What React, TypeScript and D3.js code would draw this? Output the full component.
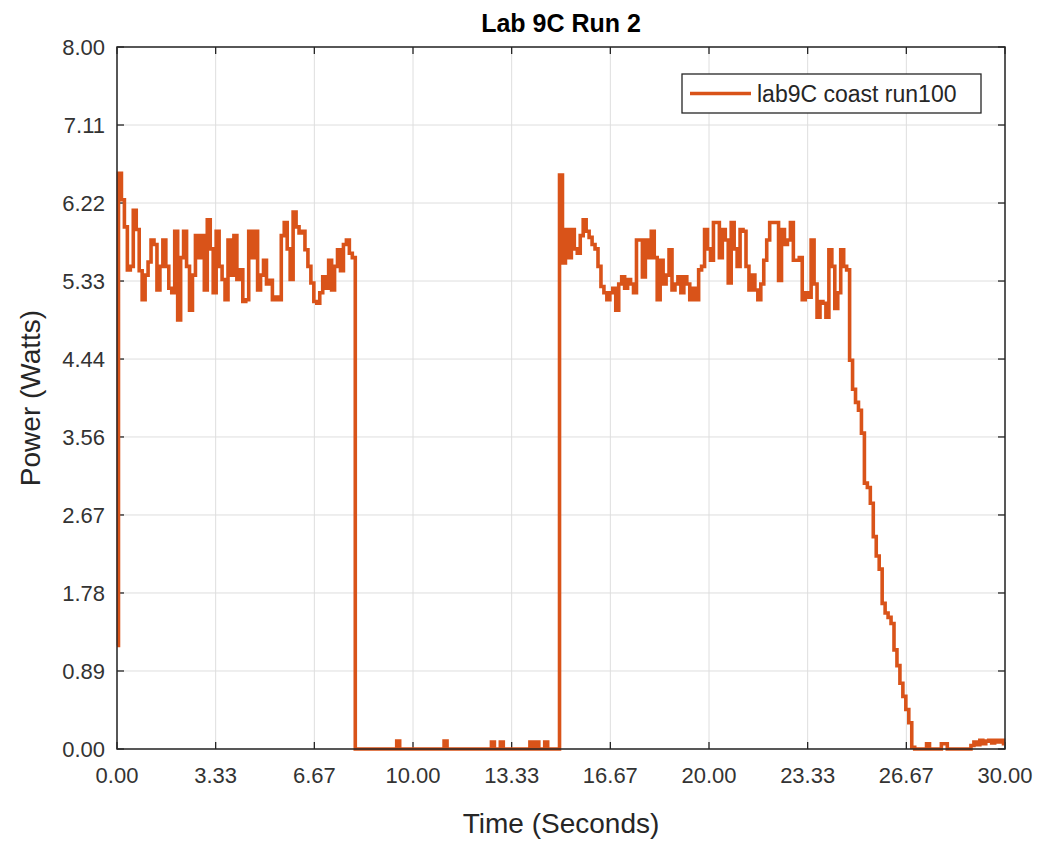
import React from 'react';
import * as d3 from 'd3';

const title = 'Lab 9C Run 2';
const xLabel = 'Time (Seconds)';
const yLabel = 'Power (Watts)';
const seriesName = 'lab9C coast run100';
const sampleStep = 0.1; // seconds between samples
const xTicks = [0, 3.333, 6.667, 10, 13.333, 16.667, 20, 23.333, 26.667, 30];
const yTicks = [0, 0.889, 1.778, 2.667, 3.556, 4.444, 5.333, 6.222, 7.111, 8];

// Power samples (W), one every 0.1 s from t = 0 to t = 30
const power = [
  1.18, 6.56, 6.26, 5.95, 5.46, 5.5, 6.14, 5.92, 5.45, 5.12,
  5.4, 5.55, 5.8, 5.75, 5.23, 5.5, 5.8, 5.5, 5.25, 5.2,
  5.9, 4.89, 5.6, 5.9, 5.5, 5.0, 5.4, 5.85, 5.6, 5.85,
  5.23, 6.03, 5.7, 5.2, 5.9, 5.5, 5.35, 5.12, 5.8, 5.4,
  5.85, 5.35, 5.46, 5.1, 5.12, 5.9, 5.6, 5.9, 5.23, 5.4,
  5.57, 5.3, 5.34, 5.12, 5.15, 5.12, 5.85, 6.0, 5.7, 5.35,
  6.12, 5.95, 5.88, 5.9, 5.69, 5.5, 5.31, 5.1, 5.08, 5.2,
  5.38, 5.25, 5.57, 5.23, 5.5, 5.69, 5.45, 5.75, 5.8, 5.65,
  5.6, 0, 0, 0, 0, 0, 0, 0, 0, 0,
  0, 0, 0, 0, 0, 0.09, 0, 0, 0, 0,
  0, 0, 0, 0, 0, 0, 0, 0, 0, 0,
  0, 0.09, 0, 0, 0, 0, 0, 0, 0, 0,
  0, 0, 0, 0, 0, 0, 0, 0.08, 0, 0,
  0.08, 0, 0, 0, 0, 0, 0, 0, 0, 0,
  0.08, 0, 0.08, 0, 0, 0.08, 0, 0, 0, 0,
  6.54, 5.54, 5.92, 5.6, 5.92, 5.7, 5.65, 5.85, 6.03, 5.9,
  5.83, 5.75, 5.7, 5.5, 5.27, 5.2, 5.12, 5.2, 5.25, 5.0,
  5.3, 5.38, 5.25, 5.35, 5.3, 5.2, 5.8, 5.8, 5.38, 5.8,
  5.6, 5.9, 5.6, 5.12, 5.57, 5.3, 5.4, 5.69, 5.23, 5.3,
  5.38, 5.2, 5.38, 5.3, 5.12, 5.25, 5.12, 5.46, 5.5, 5.92,
  5.7, 5.57, 6.0, 6.0, 5.6, 5.92, 5.8, 5.31, 6.0, 5.7,
  5.5, 5.92, 5.9, 5.5, 5.23, 5.4, 5.23, 5.12, 5.3, 5.57,
  5.8, 6.0, 6.0, 6.0, 5.34, 5.92, 5.75, 5.8, 6.0, 5.57,
  5.57, 5.6, 5.12, 5.2, 5.15, 5.8, 5.3, 4.92, 5.1, 5.08,
  4.92, 5.69, 5.5, 5.02, 5.2, 5.69, 5.5, 5.46, 4.43, 4.1,
  3.95, 3.86, 3.6, 3.03, 2.98, 2.8, 2.42, 2.2, 2.05, 1.66,
  1.55, 1.5, 1.43, 1.13, 0.95, 0.75, 0.6, 0.45, 0.3, 0.02,
  0, 0, 0, 0, 0.06, 0, 0, 0, 0, 0.06,
  0.06, 0, 0, 0, 0, 0, 0, 0, 0, 0.04,
  0.08, 0.05, 0.1, 0.06, 0.09, 0.1, 0.07, 0.1, 0.08, 0.1,
  0.06,
];

const W = 1047;
const H = 843;
const M = { left: 117, right: 1005, top: 47, bottom: 749 };
const FONT = '"Liberation Sans", Arial, Helvetica, sans-serif';
const LINE = '#D95319';
const AXIS = '#262626';
const GRID = '#dedede';

export default function App() {
  const x = d3.scaleLinear().domain([0, 30]).range([M.left, M.right]);
  const y = d3.scaleLinear().domain([0, 8]).range([M.bottom, M.top]);
  const pts: [number, number][] = power.map((v, i) => [i * sampleStep, v]);
  const line = d3
    .line<[number, number]>()
    .curve(d3.curveStep)
    .x((d) => x(d[0]))
    .y((d) => y(d[1]));
  const tick = 7;
  const cx = (M.left + M.right) / 2;
  const cy = (M.top + M.bottom) / 2;
  return (
    <svg
      width={W}
      height={H}
      style={{ position: 'absolute', left: 0, top: 0, background: '#fff' }}
      fontFamily={FONT}
    >
      <rect x={0} y={0} width={W} height={H} fill="#fff" />
      {/* grid */}
      {xTicks.map((t, i) => (
        <line key={'gx' + i} x1={x(t)} x2={x(t)} y1={M.top} y2={M.bottom} stroke={GRID} strokeWidth={1} />
      ))}
      {yTicks.map((t, i) => (
        <line key={'gy' + i} x1={M.left} x2={M.right} y1={y(t)} y2={y(t)} stroke={GRID} strokeWidth={1} />
      ))}
      {/* ticks inside on all sides */}
      {xTicks.map((t, i) => (
        <g key={'tx' + i} stroke={AXIS} strokeWidth={1.3}>
          <line x1={x(t)} x2={x(t)} y1={M.bottom} y2={M.bottom - tick} />
          <line x1={x(t)} x2={x(t)} y1={M.top} y2={M.top + tick} />
        </g>
      ))}
      {yTicks.map((t, i) => (
        <g key={'ty' + i} stroke={AXIS} strokeWidth={1.3}>
          <line x1={M.left} x2={M.left + tick} y1={y(t)} y2={y(t)} />
          <line x1={M.right} x2={M.right - tick} y1={y(t)} y2={y(t)} />
        </g>
      ))}
      {/* data */}
      <path d={line(pts) || ''} fill="none" stroke={LINE} strokeWidth={3.6} strokeLinejoin="miter" />
      {/* box */}
      <rect
        x={M.left}
        y={M.top}
        width={M.right - M.left}
        height={M.bottom - M.top}
        fill="none"
        stroke={AXIS}
        strokeWidth={1.5}
      />
      {/* tick labels */}
      {xTicks.map((t, i) => (
        <text key={'lx' + i} x={x(t)} y={M.bottom + 34} textAnchor="middle" fontSize={22} fill="#333">
          {t.toFixed(2)}
        </text>
      ))}
      {yTicks.map((t, i) => (
        <text key={'ly' + i} x={M.left - 12} y={y(t) + 8} textAnchor="end" fontSize={22} fill="#333">
          {t.toFixed(2)}
        </text>
      ))}
      {/* labels */}
      <text x={cx} y={833} textAnchor="middle" fontSize={28} fill={AXIS}>
        {xLabel}
      </text>
      <text
        transform={`translate(40,${cy}) rotate(-90)`}
        textAnchor="middle"
        fontSize={28}
        fill={AXIS}
      >
        {yLabel}
      </text>
      <text x={cx} y={32} textAnchor="middle" fontSize={25} fontWeight="bold" fill="#000">
        {title}
      </text>
      {/* legend */}
      <g>
        <rect x={682} y={74} width={299} height={39} fill="#fff" stroke={AXIS} strokeWidth={1.3} />
        <line x1={690} x2={751} y1={93.5} y2={93.5} stroke={LINE} strokeWidth={3.6} />
        <text x={757} y={101.5} fontSize={23} fill={AXIS}>
          {seriesName}
        </text>
      </g>
    </svg>
  );
}
